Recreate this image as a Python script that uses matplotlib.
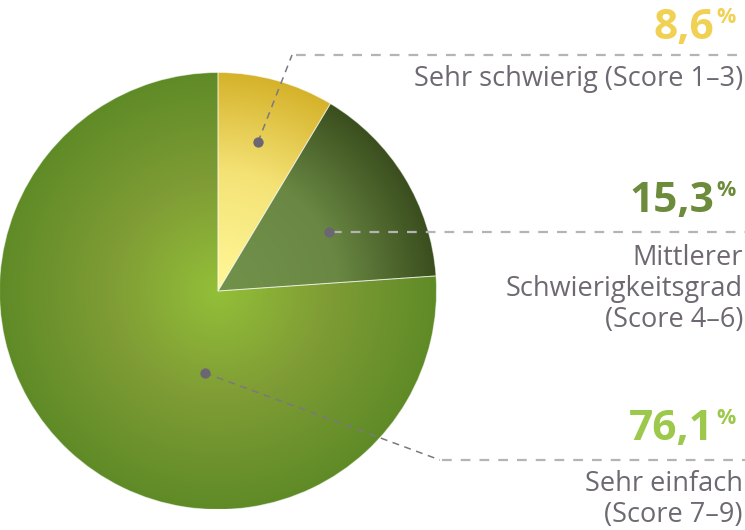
import numpy as np
import matplotlib
matplotlib.use("Agg")
import matplotlib.pyplot as plt
from matplotlib.colors import LinearSegmentedColormap

# ---- data ----
values = [8.6, 15.3, 76.1]
pct_labels = ["8,6", "15,3", "76,1"]
cat_labels = ["Sehr schwierig (Score 1–3)",
              "Mittlerer\nSchwierigkeitsgrad\n(Score 4–6)",
              "Sehr einfach\n(Score 7–9)"]
pct_colors = ["#f0d153", "#6c8b3b", "#9cc84b"]
grad_colors = [[(0, "#fff899"), (0.55, "#f4e275"), (1, "#d5b22a")],
               [(0, "#72924c"), (0.55, "#6a8843"), (1, "#3a4e1e")],
               [(0, "#93bf38"), (0.5, "#7f9c35"), (1, "#5f8b27")]]

W, H = 745, 530
plt.rcParams['font.family'] = ['Open Sans', 'DejaVu Sans']
plt.rcParams['lines.scale_dashes'] = False
fig = plt.figure(figsize=(W / 100, H / 100), dpi=100)
ax = fig.add_axes([0, 0, 1, 1])

def Y(y):  # pixel y (top-down) to data y
    return H - y

cx, cy, R = 218, Y(291), 218.5
wedges, _ = ax.pie(values, startangle=90, counterclock=False,
                   center=(cx, cy), radius=R,
                   wedgeprops=dict(linewidth=0.7, edgecolor=(1, 1, 1, 0.5)))

# radial gradients clipped to wedges
ext = [cx - R, cx + R, cy - R, cy + R]
xs = np.linspace(ext[0], ext[1], 500)
ys = np.linspace(ext[2], ext[3], 500)
XX, YY = np.meshgrid(xs, ys)
dist = np.sqrt((XX - cx) ** 2 + (YY - cy) ** 2) / R
for w, cols in zip(wedges, grad_colors):
    cmap = LinearSegmentedColormap.from_list("g", cols)
    im = ax.imshow(np.clip(dist, 0, 1), cmap=cmap, extent=ext, origin="lower",
                   vmin=0, vmax=1, interpolation="bilinear", zorder=1)
    im.set_clip_path(w)
    w.set_facecolor("none")
    w.set_zorder(2)

# leader lines
light = "#b4b4b4"
dark = "#7b7880"
dotc = "#6b6672"
leaders = [
    [(258, 142), (292, 55)],
    [(329, 232), (330, 232)],
    [(205, 373), (440, 460)],
]
hlines = [(296, 55), (332, 232), (442, 460)]
for (p0, p1), (hx, hy) in zip(leaders, hlines):
    ax.plot([p0[0], p1[0]], [Y(p0[1]), Y(p1[1])], color=dark, lw=1.1,
            linestyle=(0, (5, 4)), zorder=3, solid_capstyle='butt')
    ax.plot([hx, W], [Y(hy), Y(hy)], color=light, lw=1.6,
            linestyle=(0, (7, 6.5)), zorder=3)
    ax.scatter([p0[0]], [Y(p0[1])], s=55, color=dotc, zorder=4, linewidths=0)

# texts
txtc = "#6d6871"
pct_base = [39, 212, 440]
lab_top = [65, 244, 470]
for i in range(3):
    ax.text(714, Y(pct_base[i]), pct_labels[i], fontsize=30.5, fontweight="bold",
            color=pct_colors[i], ha="right", va="baseline")
    ax.text(716, Y(pct_base[i] - 32), "%", fontsize=15.5, fontweight="bold",
            color=pct_colors[i], ha="left", va="top")
    ax.text(743, Y(lab_top[i]), cat_labels[i], fontsize=19.5, color=txtc,
            ha="right", va="top", linespacing=1.15)

ax.set_xlim(0, W)
ax.set_ylim(0, H)
ax.set_aspect("auto")
ax.axis("off")
fig.savefig("out.png", dpi=100)
